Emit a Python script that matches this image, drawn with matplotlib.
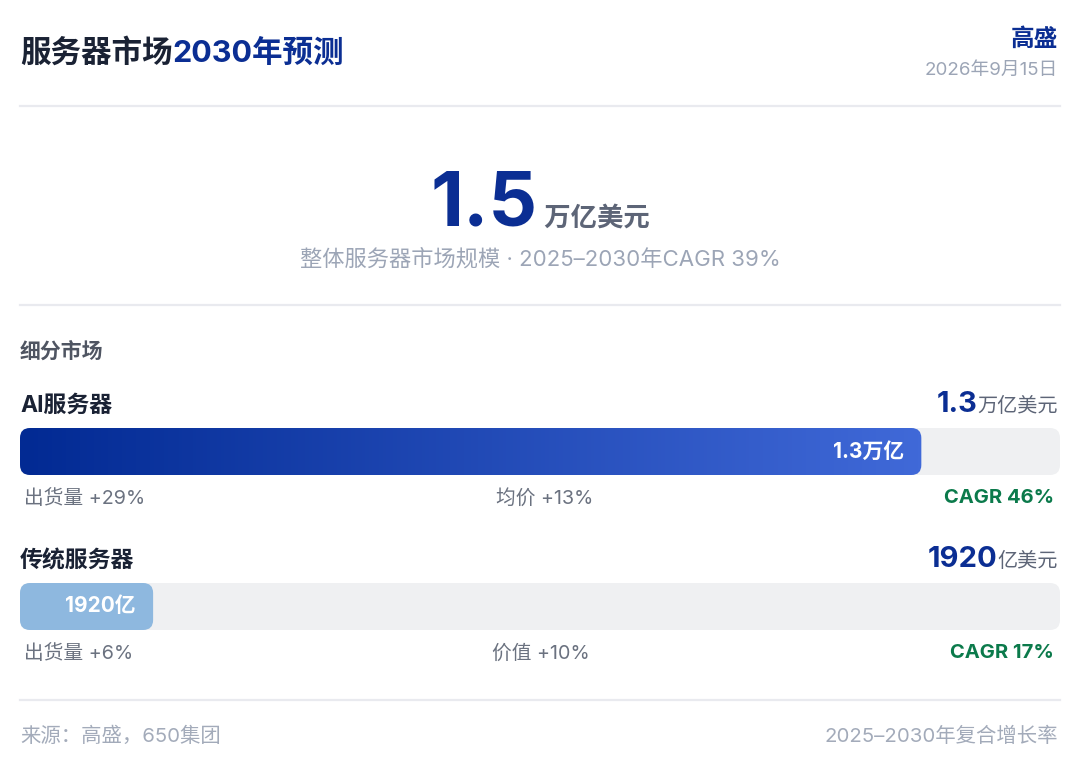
import numpy as np
import matplotlib.pyplot as plt
from matplotlib.patches import FancyBboxPatch
from matplotlib.colors import LinearSegmentedColormap

plt.rcParams['font.family'] = ['Inter', 'Noto Sans CJK SC', 'DejaVu Sans']

# data (亿美元)
TOTAL = 15000
segments = ['AI服务器', '传统服务器']
values = [13000, 1920]
head_num = ['1.3', '1920']
head_unit = ['万亿美元', '亿美元']
bar_labels = ['1.3万亿', '1920亿']
ship_growth = ['出货量 +29%', '出货量 +6%']
mid_growth = ['均价 +13%', '价值 +10%']
cagr = ['CAGR 46%', 'CAGR 17%']

DARK = '#1a2234'
BLUE = '#0b2e93'
GRAY = '#6b7280'
LIGHT = '#9ca5b6'
GREEN = '#0b7a4b'
LINE = '#e9eaef'

W, H = 1090, 768
fig = plt.figure(figsize=(W / 100, H / 100), dpi=100)
ax = fig.add_axes([0, 0, 1, 1])
ax.set_xlim(0, W)
ax.set_ylim(H, 0)
ax.axis('off')
renderer = fig.canvas.get_renderer()


def run(x, y, parts, ha='left'):
    """draw text pieces one after another on a shared baseline"""
    texts = [ax.text(0, y, s, va='baseline', **kw) for s, kw in parts]
    widths = [t.get_window_extent(renderer).width for t in texts]
    total = sum(widths)
    start = x - total if ha == 'right' else (x - total / 2 if ha == 'center' else x)
    for t, w in zip(texts, widths):
        t.set_x(start)
        start += w
    return texts


# header
run(20, 62, [('服务器市场', dict(fontsize=22, fontweight='bold', color=DARK)),
             ('2030年预测', dict(fontsize=22, fontweight='bold', color=BLUE))])
ax.text(1058, 46, '高盛', ha='right', va='baseline', fontsize=17, fontweight='bold', color=BLUE)
ax.text(1058, 75, '2026年9月15日', ha='right', va='baseline', fontsize=13.5, color=LIGHT)
ax.plot([20, 1060], [106, 106], color=LINE, lw=1.6)

# headline number
run(540, 226, [('1.5', dict(fontsize=55, fontweight='bold', color=BLUE)),
               (' 万亿美元', dict(fontsize=19, fontweight='bold', color='#5d6577'))], ha='center')
ax.text(540, 266, '整体服务器市场规模 · 2025–2030年CAGR 39%', ha='center', va='baseline',
        fontsize=16, color=LIGHT)
ax.plot([20, 1060], [305, 305], color=LINE, lw=1.6)

ax.text(20, 358, '细分市场', va='baseline', fontsize=15, fontweight='bold', color='#4f5562')

# segment rows
row_top = [428, 583]
bar_h = 47
bar_x0, bar_x1 = 20, 1060
px_x = TOTAL / (bar_x1 - bar_x0)
px_y = 1 / bar_h
radius = 10
cmap = LinearSegmentedColormap.from_list('ai', ['#022a93', '#4069d8'])
fills = [None, '#8eb8df']

for i, seg in enumerate(segments):
    top = row_top[i]
    base = top - 16
    ax.text(20, base, seg, va='baseline', fontsize=16.5, fontweight='bold', color=DARK)
    run(1058, base, [(head_num[i], dict(fontsize=21, fontweight='bold', color=BLUE)),
                     (head_unit[i], dict(fontsize=14.5, color='#5d6577'))], ha='right')

    bax = fig.add_axes([bar_x0 / W, 1 - (top + bar_h) / H, (bar_x1 - bar_x0) / W, bar_h / H])
    bax.axis('off')
    box = dict(boxstyle=f'round,pad=0,rounding_size={radius * px_x}',
               mutation_aspect=px_y / px_x, ec='none')
    bax.add_patch(FancyBboxPatch((0, 0), TOTAL, 1, fc='#eff0f2', zorder=1, **box))
    bar = FancyBboxPatch((0, 0), values[i], 1, fc=fills[i] or 'none', zorder=2, **box)
    bax.add_patch(bar)
    if fills[i] is None:
        grad = np.linspace(0, 1, 256).reshape(1, -1)
        im = bax.imshow(grad, extent=(0, values[i], 0, 1), aspect='auto', cmap=cmap, zorder=3)
        im.set_clip_path(bar)
    bax.set_xlim(0, TOTAL)
    bax.set_ylim(0, 1)
    bax.text(values[i] - 17 * px_x, 0.5, bar_labels[i], ha='right', va='center',
             fontsize=15, fontweight='bold', color='white', zorder=4)

    sub = top + bar_h + 29
    ax.text(24, sub, ship_growth[i], va='baseline', fontsize=14.2, color=GRAY)
    ax.text([496, 492][i], sub, mid_growth[i], va='baseline', fontsize=14.2, color=GRAY)
    ax.text(1054, sub - 1, cagr[i], ha='right', va='baseline', fontsize=14.5,
            fontweight='bold', color=GREEN)

ax.plot([20, 1060], [700, 700], color=LINE, lw=1.6)
ax.text(20, 742, '来源：高盛，650集团', va='baseline', fontsize=14.7, color='#a3abba')
ax.text(1058, 742, '2025–2030年复合增长率', ha='right', va='baseline', fontsize=14.7, color='#a3abba')

fig.savefig('out.png', dpi=100, facecolor='white')
